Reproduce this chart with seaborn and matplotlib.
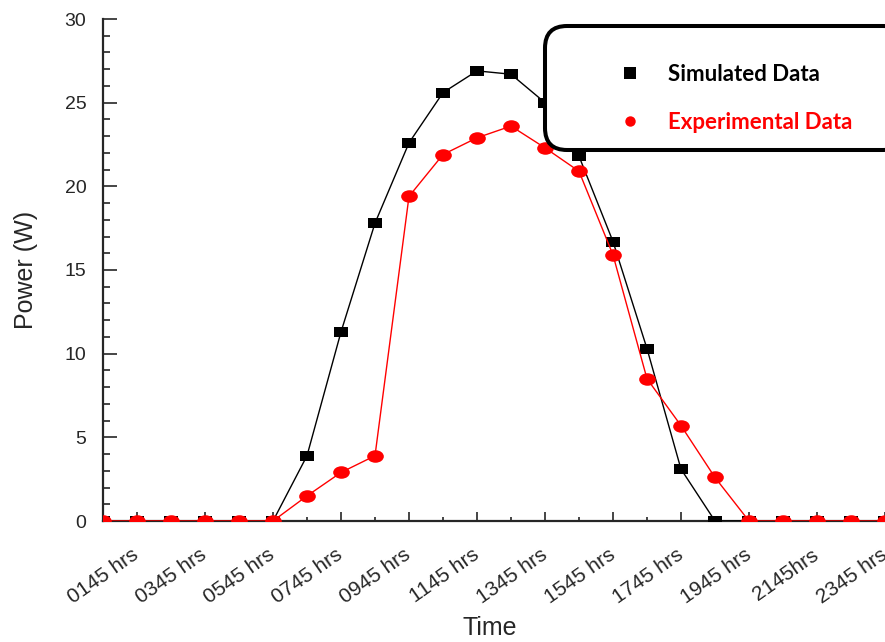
import pandas as pd
import matplotlib
matplotlib.use('Agg')
import matplotlib.pyplot as plt
import seaborn as sns
from matplotlib.lines import Line2D
from matplotlib.patches import FancyBboxPatch
from matplotlib.path import Path
from matplotlib.markers import MarkerStyle
from matplotlib.ticker import MultipleLocator
from matplotlib.transforms import Affine2D

# hourly readings, 0045 .. 2345
hours = ['0045', '0145', '0245', '0345', '0445', '0545', '0645', '0745',
         '0845', '0945', '1045', '1145', '1245', '1345', '1445', '1545',
         '1645', '1745', '1845', '1945', '2045', '2145', '2245', '2345']
simulated = [0, 0, 0, 0, 0, 0, 3.9, 11.3, 17.8, 22.6, 25.6, 26.9,
             26.7, 25.0, 21.8, 16.7, 10.3, 3.1, 0, 0, 0, 0, 0, 0]
experimental = [0, 0, 0, 0, 0, 0, 1.5, 2.9, 3.9, 19.4, 21.9, 22.9,
                23.6, 22.3, 20.9, 15.9, 8.5, 5.7, 2.6, 0, 0, 0, 0, 0]
tick_labels = ['0145 hrs', '0345 hrs', '0545 hrs', '0745 hrs', '0945 hrs',
               '1145 hrs', '1345 hrs', '1545 hrs', '1745 hrs', '1945 hrs',
               '2145hrs', '2345 hrs']
series = ['Simulated Data', 'Experimental Data']

df = pd.concat([
    pd.DataFrame({'idx': range(len(hours)), 'hour': hours,
                  'power': simulated, 'series': series[0]}),
    pd.DataFrame({'idx': range(len(hours)), 'hour': hours,
                  'power': experimental, 'series': series[1]}),
])

sns.set_style('ticks')
plt.rcParams['font.family'] = ['Liberation Sans', 'DejaVu Sans']

# the original image is a bit stretched sideways, so are its markers
sq = Path([(-1.4, -1), (1.4, -1), (1.4, 1), (-1.4, 1), (-1.4, -1)],
          [Path.MOVETO, Path.LINETO, Path.LINETO, Path.LINETO, Path.CLOSEPOLY])
ell = Path.unit_circle().transformed(Affine2D().scale(1.33, 1))

fig = plt.figure(figsize=(8.85, 6.42), dpi=100)
ax = fig.add_axes([103 / 885, 1 - 521 / 642, 1 - 103 / 885, 502 / 642])

sns.lineplot(data=df, x='idx', y='power', hue='series', style='series',
             hue_order=series, style_order=series,
             palette={series[0]: 'black', series[1]: 'red'},
             markers={series[0]: MarkerStyle(sq), series[1]: MarkerStyle(ell)},
             dashes=False, markersize=11, markeredgewidth=0, linewidth=1,
             legend=False, ax=ax)
ax.lines[0].set_markersize(10.5)
ax.lines[1].set_markersize(12)
for ln in ax.lines:
    ln.set_zorder(3)  # over the spines, like the original

ax.set_xlim(0, len(hours) - 1)
ax.set_ylim(0, 30)
ax.set_xticks(range(1, len(hours), 2))
ax.set_xticklabels(tick_labels, rotation=35, ha='right', va='center',
                   rotation_mode='anchor', fontsize=15)
ax.xaxis.set_minor_locator(MultipleLocator(1))
ax.yaxis.set_major_locator(MultipleLocator(5))
ax.yaxis.set_minor_locator(MultipleLocator(1))
ax.tick_params(axis='y', which='major', direction='in', length=10, width=1.2,
               labelsize=14, pad=12)
ax.tick_params(axis='y', which='minor', direction='in', length=5, width=1.2)
ax.tick_params(axis='x', which='major', direction='in', length=6.5, width=1.2,
               pad=23)
ax.tick_params(axis='x', which='minor', direction='in', length=3, width=1.2)
for s in ['top', 'right']:
    ax.spines[s].set_visible(False)
for s in ['left', 'bottom']:
    ax.spines[s].set_linewidth(1.6)

ax.set_xlabel('Time', fontsize=18)
ax.set_ylabel('Power (W)', fontsize=18)
ax.xaxis.set_label_coords(0.495, -0.19)
ax.yaxis.set_label_coords(-0.083, 0.5)

# rounded legend frame, runs off the right edge like the original
frame = FancyBboxPatch((5.45, 4.92), 3.6, 1.24,
                       boxstyle='round,pad=0,rounding_size=0.22',
                       transform=fig.dpi_scale_trans, lw=2.9,
                       ec='black', fc='white', zorder=5)
fig.add_artist(frame)

handles = [Line2D([], [], ls='none', marker='s', ms=9, mew=0, color='black'),
           Line2D([], [], ls='none', marker='o', ms=7.5, mew=0, color='red')]
leg = fig.legend(handles, series, loc='upper left',
                 bbox_to_anchor=(608 / 885, 1 - 64 / 642), frameon=False,
                 prop={'family': 'Lato', 'weight': 'bold', 'size': 16},
                 handlelength=2, handletextpad=0.7, labelspacing=1.22,
                 borderpad=0, borderaxespad=0)
leg.set_zorder(6)
leg.get_texts()[0].set_color('black')
leg.get_texts()[1].set_color('red')

fig.savefig('out.png', dpi=100)
